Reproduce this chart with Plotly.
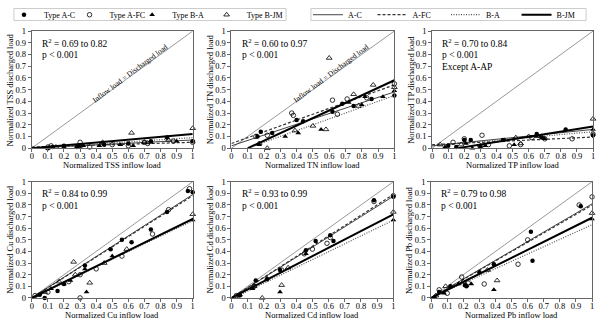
import plotly.graph_objects as go

FONT = "Liberation Serif"

panels = ["TSS", "TN", "TP", "Cu", "Cd", "Pb"]
r2_text = ["0.69 to 0.82", "0.60 to 0.97", "0.70 to 0.84", "0.84 to 0.99", "0.93 to 0.99", "0.79 to 0.98"]

types = ["Type A-C", "Type A-FC", "Type B-A", "Type B-JM"]
line_names = ["A-C", "A-FC", "B-A", "B-JM"]

# scatter data: per panel, per type
TSS_AC_x = [0.1, 0.2, 0.3, 0.45, 0.6, 0.74, 0.84, 1.0, 0.13, 0.28]
TSS_AC_y = [0.0, 0.02, 0.02, 0.03, 0.04, 0.06, 0.09, 0.06, 0.01, 0.01]
TSS_AFC_x = [0.1, 0.12, 0.3, 0.36, 0.6, 0.7, 0.72, 1.0, 0.5, 0.88]
TSS_AFC_y = [0.01, 0.02, 0.05, 0.01, 0.02, 0.05, 0.04, 0.05, 0.03, 0.06]
TSS_BA_x = [0.1, 0.28, 0.42, 0.63, 0.74, 0.9, 0.2, 0.55, 0.32]
TSS_BA_y = [0.0, 0.01, 0.02, 0.02, 0.05, 0.06, 0.01, 0.03, 0.02]
TSS_BJM_x = [0.62, 1.0, 0.44, 0.3, 0.15, 0.7, 0.85]
TSS_BJM_y = [0.13, 0.17, 0.05, 0.02, 0.01, 0.05, 0.07]

TN_AC_x = [0.18, 0.16, 0.4, 0.68, 0.75, 0.86, 1.0, 0.25, 0.44, 0.62]
TN_AC_y = [0.14, 0.1, 0.24, 0.38, 0.36, 0.42, 0.45, 0.13, 0.23, 0.31]
TN_AFC_x = [0.37, 0.38, 0.62, 0.71, 0.65, 0.22, 1.0, 0.15, 0.83]
TN_AFC_y = [0.3, 0.28, 0.41, 0.42, 0.29, 0.11, 0.55, 0.1, 0.43]
TN_BA_x = [0.33, 0.41, 0.55, 0.82, 0.93, 1.0, 0.17, 0.72, 0.8]
TN_BA_y = [0.1, 0.13, 0.16, 0.44, 0.44, 0.49, 0.03, 0.39, 0.37]
TN_BJM_x = [0.6, 0.87, 0.75, 0.58, 0.5, 0.39, 0.17, 0.22, 0.78, 1.0]
TN_BJM_y = [0.77, 0.54, 0.46, 0.16, 0.19, 0.15, 0.04, 0.0, 0.36, 0.52]

TP_AC_x = [0.2, 0.24, 0.44, 0.65, 0.83, 1.0, 0.1, 0.3, 0.68, 0.15]
TP_AC_y = [0.07, 0.07, 0.07, 0.12, 0.16, 0.11, 0.02, 0.01, 0.09, 0.01]
TP_AFC_x = [0.31, 0.2, 0.48, 0.55, 0.87, 1.0, 0.13, 0.35, 0.62, 0.7]
TP_AFC_y = [0.11, 0.08, 0.02, 0.03, 0.08, 0.12, 0.05, 0.03, 0.09, 0.08]
TP_BA_x = [0.51, 0.45, 0.65, 0.7, 0.08, 0.21, 0.33, 1.0, 0.25]
TP_BA_y = [0.03, 0.07, 0.1, 0.08, 0.01, 0.04, 0.02, 0.16, 0.0]
TP_BJM_x = [1.0, 0.55, 0.52, 0.3, 0.05, 0.6, 0.18, 0.68]
TP_BJM_y = [0.25, 0.04, 0.09, 0.02, 0.03, 0.1, 0.03, 0.1]

Cu_AC_x = [0.97, 1.0, 0.84, 0.74, 0.62, 0.56, 0.49, 0.33, 0.16, 0.08, 0.2, 0.05]
Cu_AC_y = [0.92, 0.91, 0.74, 0.59, 0.48, 0.5, 0.42, 0.28, 0.06, 0.0, 0.12, 0.03]
Cu_AFC_x = [0.98, 0.85, 0.75, 0.56, 0.4, 0.3, 0.3, 0.23, 0.1, 0.02]
Cu_AFC_y = [0.94, 0.76, 0.55, 0.36, 0.25, 0.2, 0.0, 0.14, 0.05, 0.02]
Cu_BA_x = [0.34, 0.24, 0.2, 0.12, 0.04, 1.0, 0.33, 0.5]
Cu_BA_y = [0.05, 0.15, 0.12, 0.08, 0.02, 0.67, 0.25, 0.36]
Cu_BJM_x = [0.26, 0.36, 0.17, 1.0, 0.59, 0.08, 0.45, 0.27]
Cu_BJM_y = [0.31, 0.13, 0.14, 0.72, 0.42, 0.05, 0.3, 0.2]

Cd_AC_x = [0.15, 0.46, 0.52, 0.61, 0.63, 0.88, 1.0, 0.05, 0.3, 0.22]
Cd_AC_y = [0.15, 0.41, 0.49, 0.54, 0.49, 0.84, 0.87, 0.02, 0.24, 0.16]
Cd_AFC_x = [0.88, 1.0, 0.59, 0.5, 0.14, 0.31, 0.03, 0.61, 0.45]
Cd_AFC_y = [0.83, 0.88, 0.47, 0.42, 0.1, 0.24, 0.02, 0.52, 0.38]
Cd_BA_x = [0.3, 1.0, 0.13, 0.05, 0.22, 0.46]
Cd_BA_y = [0.05, 0.67, 0.08, 0.02, 0.17, 0.38]
Cd_BJM_x = [0.31, 0.19, 1.0, 0.14, 0.35, 0.05]
Cd_BJM_y = [0.11, 0.0, 0.74, 0.1, 0.26, 0.03]

Pb_AC_x = [0.93, 0.62, 0.63, 0.39, 0.3, 0.21, 0.12, 0.05, 0.22]
Pb_AC_y = [0.79, 0.57, 0.32, 0.29, 0.22, 0.11, 0.1, 0.05, 0.1]
Pb_AFC_x = [0.92, 1.0, 0.6, 0.54, 0.33, 0.19, 0.05, 0.1, 0.23]
Pb_AFC_y = [0.8, 0.87, 0.5, 0.29, 0.12, 0.18, 0.07, 0.04, 0.13]
Pb_BA_x = [0.39, 1.0, 0.22, 0.25, 0.17, 0.02, 0.08]
Pb_BA_y = [0.07, 0.68, 0.11, 0.12, 0.12, 0.01, 0.04]
Pb_BJM_x = [0.41, 1.0, 0.09, 0.35, 0.2, 0.03]
Pb_BJM_y = [0.15, 0.73, 0.1, 0.24, 0.14, 0.02]

scatter = {
    "TSS": [(TSS_AC_x, TSS_AC_y), (TSS_AFC_x, TSS_AFC_y), (TSS_BA_x, TSS_BA_y), (TSS_BJM_x, TSS_BJM_y)],
    "TN": [(TN_AC_x, TN_AC_y), (TN_AFC_x, TN_AFC_y), (TN_BA_x, TN_BA_y), (TN_BJM_x, TN_BJM_y)],
    "TP": [(TP_AC_x, TP_AC_y), (TP_AFC_x, TP_AFC_y), (TP_BA_x, TP_BA_y), (TP_BJM_x, TP_BJM_y)],
    "Cu": [(Cu_AC_x, Cu_AC_y), (Cu_AFC_x, Cu_AFC_y), (Cu_BA_x, Cu_BA_y), (Cu_BJM_x, Cu_BJM_y)],
    "Cd": [(Cd_AC_x, Cd_AC_y), (Cd_AFC_x, Cd_AFC_y), (Cd_BA_x, Cd_BA_y), (Cd_BJM_x, Cd_BJM_y)],
    "Pb": [(Pb_AC_x, Pb_AC_y), (Pb_AFC_x, Pb_AFC_y), (Pb_BA_x, Pb_BA_y), (Pb_BJM_x, Pb_BJM_y)],
}

# regression lines: slope, intercept, x start (order A-C, A-FC, B-A, B-JM)
slopes = {
    "TSS": [0.07, 0.04, 0.09, 0.12],
    "TN": [0.46, 0.5, 0.5, 0.645],
    "TP": [0.14, 0.065, 0.12, 0.22],
    "Cu": [0.89, 0.88, 0.665, 0.68],
    "Cd": [0.875, 0.89, 0.68, 0.72],
    "Pb": [0.81, 0.8, 0.63, 0.69],
}
intercepts = {
    "TSS": [0.0, 0.01, 0.0, 0.0],
    "TN": [0.02, 0.04, -0.05, -0.065],
    "TP": [0.02, 0.03, 0.02, -0.035],
    "Cu": [0.0, 0.0, 0.0, 0.0],
    "Cd": [0.0, 0.0, -0.01, 0.0],
    "Pb": [0.0, 0.0, 0.0, 0.0],
}
xstart = {
    "TSS": [0.0, 0.0, 0.0, 0.0],
    "TN": [0.0, 0.0, 0.14, 0.1],
    "TP": [0.0, 0.0, 0.0, 0.16],
    "Cu": [0.0, 0.0, 0.0, 0.0],
    "Cd": [0.0, 0.0, 0.015, 0.0],
    "Pb": [0.0, 0.0, 0.0, 0.0],
}

ticks = [0, 0.1, 0.2, 0.3, 0.4, 0.5, 0.6, 0.7, 0.8, 0.9, 1]
ticklabels = ["0", "0.1", "0.2", "0.3", "0.4", "0.5", "0.6", "0.7", "0.8", "0.9", "1"]

W, H = 600, 325
boxes = [(30, 192, 24, 146), (231, 395, 24, 146), (433, 595, 24, 146),
         (30, 192, 181, 302), (231, 394, 181, 302), (432, 594, 181, 302)]

marker_styles = [
    dict(symbol="circle", size=4.5, color="black"),
    dict(symbol="circle-open", size=4.5, color="black", line=dict(width=0.8, color="black")),
    dict(symbol="triangle-up", size=5, color="black"),
    dict(symbol="triangle-up-open", size=5, color="black", line=dict(width=0.8, color="black")),
]
line_styles = [
    dict(color="#444444", width=1, dash="solid"),
    dict(color="#333333", width=1.2, dash="3px,2px"),
    dict(color="#555555", width=1.2, dash="1px,1.5px"),
    dict(color="black", width=2, dash="solid"),
]

# legend left positions (px) for each entry
marker_legend_x = [2, 68, 131, 206]
line_legend_x = [308, 373, 447, 518]

fig = go.Figure()
layout = {}
annotations = []

for i, p in enumerate(panels):
    n = i + 1
    xa = "x" if n == 1 else f"x{n}"
    ya = "y" if n == 1 else f"y{n}"
    l, r, t, b = boxes[i]
    axcommon = dict(range=[0, 1], showgrid=False, zeroline=False, showline=True, linecolor="#666",
                    linewidth=1, mirror=True, ticks="outside", ticklen=3, tickcolor="#666",
                    tickvals=ticks, ticktext=ticklabels,
                    tickfont=dict(family=FONT, size=8.5, color="black"))
    layout["xaxis" if n == 1 else f"xaxis{n}"] = dict(axcommon, domain=[l / W, r / W], anchor=ya,
                                                      ticklabelstandoff=-3)
    layout["yaxis" if n == 1 else f"yaxis{n}"] = dict(axcommon, domain=[1 - b / H, 1 - t / H], anchor=xa)

    fig.add_trace(go.Scatter(x=[0, 1], y=[0, 1], mode="lines", line=dict(color="#999", width=1),
                             xaxis=xa, yaxis=ya, showlegend=False, hoverinfo="skip"))
    for k in range(4):
        xs = [xstart[p][k], 1.0]
        ys = [intercepts[p][k] + slopes[p][k] * v for v in xs]
        fig.add_trace(go.Scatter(x=xs, y=ys, mode="lines", line=line_styles[k], name=line_names[k],
                                 xaxis=xa, yaxis=ya, showlegend=(n == 1),
                                 legend=f"legend{5 + k}", cliponaxis=False))
    for k in range(4):
        sx, sy = scatter[p][k]
        fig.add_trace(go.Scatter(x=sx, y=sy, mode="markers", marker=marker_styles[k], name=types[k],
                                 xaxis=xa, yaxis=ya, showlegend=(n == 1),
                                 legend=("legend" if k == 0 else f"legend{1 + k}"), cliponaxis=False))

    annotations.append(dict(text=f"Normalized {p} inflow load", xref="paper", yref="paper",
                            x=(l + r) / 2 / W, y=1 - (b + 18) / H, xanchor="center", yanchor="middle",
                            showarrow=False, font=dict(family=FONT, size=8.5, color="black")))
    annotations.append(dict(text=f"Normalized {p} discharged load", xref="paper", yref="paper",
                            x=(l - 22) / W, y=1 - (t + b) / 2 / H, xanchor="center", yanchor="middle",
                            textangle=-90, showarrow=False, font=dict(family=FONT, size=8.5, color="black")))
    lines = [f"R<sup>2</sup> = {r2_text[i]}", "p < 0.001"]
    if p == "TP":
        lines.append("Except A-AP")
    for j, s in enumerate(lines):
        annotations.append(dict(text=s, xref=xa, yref=ya, x=0.05, y=0.9 - 0.105 * j, xanchor="left",
                                yanchor="middle", showarrow=False,
                                font=dict(family=FONT, size=9.5, color="black")))
    if p in ("TSS", "TN"):
        annotations.append(dict(text="Inflow load = Discharged load", xref=xa, yref=ya, x=0.61, y=0.64,
                                textangle=-37, showarrow=False,
                                font=dict(family=FONT, size=7.5, color="black")))

leg_common = dict(orientation="v", yanchor="middle", y=1 - 7 / H, xanchor="left",
                  bgcolor="rgba(0,0,0,0)", borderwidth=0, itemwidth=30,
                  font=dict(family=FONT, size=8, color="black"))
for k in range(4):
    key = "legend" if k == 0 else f"legend{1 + k}"
    layout[key] = dict(leg_common, x=marker_legend_x[k] / W)
    layout[f"legend{5 + k}"] = dict(leg_common, x=line_legend_x[k] / W)

shapes = [
    dict(type="rect", xref="paper", yref="paper", x0=12 / W, x1=286 / W, y0=1 - 13 / H, y1=1 - 0.5 / H,
         line=dict(color="#cccccc", width=1)),
    dict(type="rect", xref="paper", yref="paper", x0=311 / W, x1=588 / W, y0=1 - 13 / H, y1=1 - 0.5 / H,
         line=dict(color="#cccccc", width=1)),
]

fig.update_layout(
    width=W, height=H, margin=dict(l=0, r=0, t=0, b=0),
    paper_bgcolor="white", plot_bgcolor="white",
    annotations=annotations, shapes=shapes, showlegend=True,
    **layout,
)

fig.write_html("out.html")
